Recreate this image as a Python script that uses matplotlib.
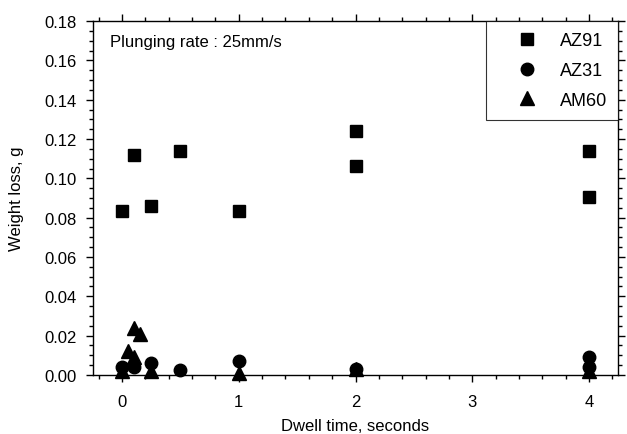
import numpy as np
import matplotlib.pyplot as plt
from matplotlib.ticker import MultipleLocator

plt.rcParams['font.family'] = ['Liberation Sans', 'DejaVu Sans']

# Weight loss vs dwell time for three magnesium alloys
az91_t = [0, 0.1, 0.25, 0.5, 1, 2, 2, 4, 4]
az91_w = [0.0835, 0.112, 0.086, 0.114, 0.0835, 0.124, 0.1065, 0.114, 0.0905]

az31_t = [0, 0.1, 0.25, 0.5, 1, 2, 4, 4]
az31_w = [0.004, 0.004, 0.006, 0.0025, 0.007, 0.003, 0.009, 0.004]

am60_t = [0, 0.05, 0.1, 0.1, 0.15, 0.25, 1, 2, 4]
am60_w = [0.002, 0.012, 0.024, 0.009, 0.021, 0.002, 0.001, 0.003, 0.002]

fig = plt.figure(figsize=(6.27, 4.35), dpi=100)
ax = fig.add_axes([0.148, 0.136, 0.838, 0.813])

ax.plot(az91_t, az91_w, 's', color='black', ms=9, label='AZ91', clip_on=False)
ax.plot(az31_t, az31_w, 'o', color='black', ms=9, label='AZ31', clip_on=False)
ax.plot(am60_t, am60_w, '^', color='black', ms=10, label='AM60', clip_on=False)

ax.set_xlim(-0.25, 4.25)
ax.set_ylim(0, 0.18)
ax.xaxis.set_major_locator(MultipleLocator(1))
ax.xaxis.set_minor_locator(MultipleLocator(0.2))
ax.yaxis.set_major_locator(MultipleLocator(0.02))
ax.yaxis.set_minor_locator(MultipleLocator(0.005))
ax.yaxis.set_major_formatter(plt.FormatStrFormatter('%.2f'))

ax.tick_params(which='both', direction='out', top=True, right=True,
               labeltop=False, labelright=False, width=1, labelsize=12)
ax.tick_params(which='major', length=5)
ax.tick_params(which='minor', length=3)
ax.tick_params(axis='x', which='major', pad=8.5)
ax.tick_params(axis='y', which='major', pad=6.5)
for s in ax.spines.values():
    s.set_linewidth(1)

ax.set_xlabel('Dwell time, seconds', fontsize=12, labelpad=6.5)
ax.set_ylabel('Weight loss, g', fontsize=12)
ax.yaxis.set_label_coords(-0.131, 0.5)

ax.text(0.033, 0.9435, 'Plunging rate : 25mm/s', transform=ax.transAxes,
        fontsize=12, va='center')

leg = ax.legend(loc='upper right', fontsize=13, frameon=True, fancybox=False,
                borderaxespad=0, handletextpad=0.15, labelspacing=0.7,
                borderpad=0.62, handlelength=3.3, markerscale=1.0)
leg.get_frame().set_edgecolor('black')
leg.get_frame().set_linewidth(0.8)

fig.savefig('out.png', dpi=100)
